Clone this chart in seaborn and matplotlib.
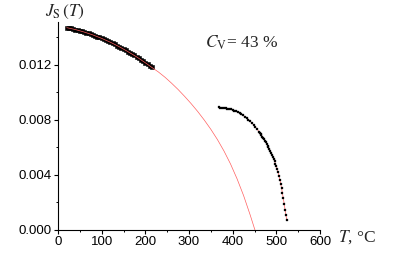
import numpy as np
import pandas as pd
import matplotlib
matplotlib.use("Agg")
import matplotlib.pyplot as plt
from matplotlib.ticker import MultipleLocator, FormatStrFormatter
import seaborn as sns

# ---- data ----
low_T = [20, 25, 30, 35, 40, 45, 50, 55, 60, 65, 70, 75, 80, 85, 90, 95, 100,
         105, 110, 115, 120, 125, 130, 135, 140, 145, 150, 155, 160, 165, 170,
         175, 180, 185, 190, 195, 200, 205, 210, 215]
low_J = [0.01469, 0.01466, 0.01463, 0.01459, 0.01455, 0.01451, 0.01447, 0.01442,
         0.01437, 0.01432, 0.01427, 0.01422, 0.01416, 0.01410, 0.01404, 0.01398,
         0.01391, 0.01384, 0.01377, 0.01370, 0.01363, 0.01355, 0.01347, 0.01339,
         0.01331, 0.01322, 0.01313, 0.01305, 0.01295, 0.01286, 0.01276, 0.01267,
         0.01257, 0.01246, 0.01236, 0.01225, 0.01214, 0.01203, 0.01192, 0.01180]

high_T = [368, 372, 376, 380, 384, 388, 392, 396, 400, 404, 408, 412, 416, 420,
          424, 428, 432, 436, 440, 444, 448, 452, 456, 460, 462, 464, 466, 468,
          470, 472, 474, 476, 478, 480, 482, 484, 486, 488, 490, 492, 494, 496,
          498, 500, 502, 504, 506, 508, 510, 512, 514, 516, 518, 520, 522, 524]
high_J = [0.00890, 0.00889, 0.00888, 0.00886, 0.00884, 0.00882, 0.00879, 0.00875,
          0.00871, 0.00866, 0.00861, 0.00855, 0.00848, 0.00840, 0.00832, 0.00823,
          0.00813, 0.00802, 0.00790, 0.00777, 0.00763, 0.00748, 0.00732, 0.00715,
          0.00706, 0.00697, 0.00688, 0.00678, 0.00668, 0.00658, 0.00647, 0.00636,
          0.00625, 0.00613, 0.00601, 0.00588, 0.00575, 0.00561, 0.00547, 0.00532,
          0.00516, 0.00499, 0.00481, 0.00462, 0.00442, 0.00420, 0.00395, 0.00366,
          0.00335, 0.00302, 0.00267, 0.00230, 0.00190, 0.00148, 0.00106, 0.00072]

fit_T = [20, 40, 60, 80, 100, 120, 140, 160, 180, 200, 215, 230, 245, 260, 275,
         290, 305, 320, 335, 350, 365, 380, 395, 410, 425, 440, 451]
fit_J = [0.01469, 0.01455, 0.01437, 0.01416, 0.01391, 0.01363, 0.01331, 0.01295,
         0.01257, 0.01214, 0.01180, 0.01147, 0.01109, 0.01066, 0.01020, 0.00970,
         0.00917, 0.00860, 0.00798, 0.00731, 0.00657, 0.00574, 0.00480, 0.00372,
         0.00250, 0.00110, 0.0]

x_ticks = [0, 100, 200, 300, 400, 500, 600]
y_ticks = [0.000, 0.004, 0.008, 0.012]

# ---- figure ----
sns.set_style("ticks")
plt.rcParams["font.family"] = ["Liberation Sans", "DejaVu Sans"]
plt.rcParams["mathtext.fontset"] = "stix"

fig = plt.figure(figsize=(4.0, 2.67), dpi=100)
ax = fig.add_axes([0.145, 0.1386, 0.655, 0.779])

red = "#ff6060"
low_df = pd.DataFrame({"T": low_T, "J": low_J})
high_df = pd.DataFrame({"T": high_T, "J": high_J})
fit_df = pd.DataFrame({"T": fit_T, "J": fit_J})

sns.scatterplot(data=low_df, x="T", y="J", ax=ax, marker="s", s=11,
                color="black", edgecolor="black", linewidth=0.4, zorder=2)
sns.scatterplot(data=high_df, x="T", y="J", ax=ax, marker="s", s=4,
                color="black", edgecolor="black", linewidth=0.2, zorder=2)
sns.lineplot(data=fit_df, x="T", y="J", ax=ax, color=red, linewidth=0.5,
             sort=False, zorder=3)
sns.lineplot(data=high_df, x="T", y="J", ax=ax, color=red, linewidth=0.5,
             sort=False, zorder=1.5)

ax.set_xlim(0, 600)
ax.set_ylim(0, 0.0151)
ax.set_xticks(x_ticks)
ax.set_yticks(y_ticks)
ax.xaxis.set_minor_locator(MultipleLocator(50))
ax.yaxis.set_minor_locator(MultipleLocator(0.002))
ax.yaxis.set_major_formatter(FormatStrFormatter("%.3f"))
ax.set_xlabel("")
ax.set_ylabel("")
sns.despine(ax=ax)
for s in ("left", "bottom"):
    ax.spines[s].set_linewidth(0.8)
    ax.spines[s].set_color("black")
ax.tick_params(which="major", direction="out", length=3, width=0.8,
               labelsize=9.5, pad=1.5, colors="black")
ax.tick_params(which="minor", direction="out", length=1.6, width=0.7,
               colors="black")

serif = ["Liberation Serif", "DejaVu Serif"]
fig.text(45 / 400, 1 - 16 / 267, r"$J_{\rm S}\,(T)$", fontsize=12.5,
         va="baseline", ha="left")
fig.text(205 / 400, 1 - 48 / 267, r"$C_{\rm V}$= 43 %", fontsize=12.5,
         va="baseline", ha="left", family=serif)
fig.text(338 / 400, 1 - 242 / 267, r"$T$, °C", fontsize=12.5,
         va="baseline", ha="left", family=serif)

fig.savefig("out.png", dpi=100)
